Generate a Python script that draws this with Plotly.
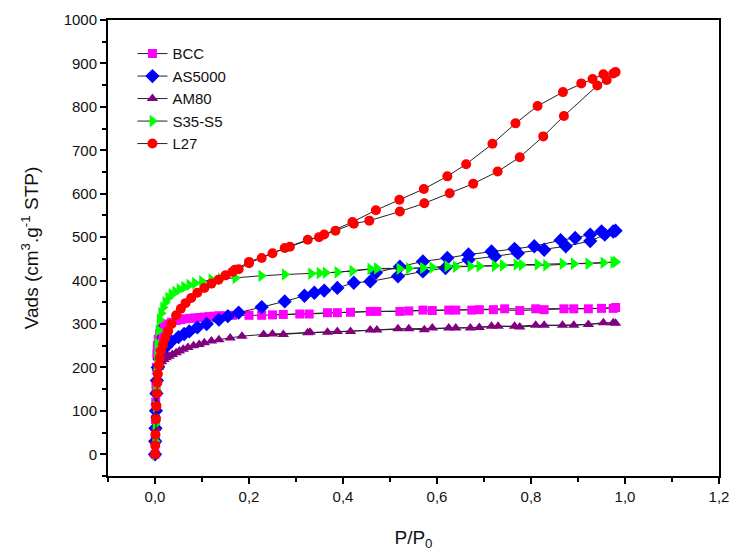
import plotly.graph_objects as go

# ---------------- data ----------------
bcc_ads_x = [0, 0.0005, 0.001, 0.0015, 0.002, 0.003, 0.004, 0.005, 0.007, 0.01, 0.014, 0.02, 0.027, 0.035, 0.045,
             0.055, 0.065, 0.075, 0.085, 0.095, 0.105, 0.115, 0.125, 0.136, 0.15, 0.165, 0.2, 0.227, 0.273,
             0.308, 0.367, 0.416, 0.458, 0.521, 0.57, 0.625, 0.674, 0.72, 0.776, 0.828, 0.87, 0.922, 0.95, 0.98]
bcc_ads_y = [0, 40, 80, 120, 160, 200, 230, 250, 265, 278, 287, 295, 300, 304, 308,
             310, 312, 313, 314, 315, 316, 317, 318, 319, 319, 320, 320, 320, 322,
             323, 326, 327, 329, 329, 332, 332, 332, 333, 331, 333, 335, 335, 336, 338]
bcc_des_x = [0.975, 0.891, 0.81, 0.744, 0.69, 0.64, 0.59, 0.54, 0.472, 0.388, 0.328, 0.25]
bcc_des_y = [336, 335, 335, 335, 333, 332, 331, 330, 329, 326, 323, 321]

as_ads_x = [0, 0.0005, 0.001, 0.002, 0.003, 0.004, 0.006, 0.01, 0.015, 0.024, 0.035, 0.05, 0.062, 0.073, 0.09,
            0.11, 0.136, 0.155, 0.178, 0.227, 0.276, 0.318, 0.339, 0.36, 0.388, 0.423, 0.458, 0.517, 0.57,
            0.618, 0.667, 0.723, 0.772, 0.828, 0.874, 0.926, 0.957, 0.98]
as_ads_y = [0, 30, 60, 100, 140, 170, 200, 218, 232, 248, 260, 270, 277, 283, 292,
            300, 310, 318, 326, 339, 352, 365, 372, 377, 383, 395, 398, 410, 421,
            429, 448, 456, 463, 471, 479, 491, 506, 515]
as_des_x = [0.975, 0.95, 0.926, 0.894, 0.863, 0.807, 0.765, 0.716, 0.667, 0.622, 0.57, 0.521, 0.47]
as_des_y = [513, 513, 506, 498, 493, 479, 473, 467, 460, 452, 444, 432, 418]

am_ads_x = [0, 0.0005, 0.001, 0.0015, 0.002, 0.003, 0.004, 0.005, 0.007, 0.01, 0.014, 0.019, 0.024, 0.03, 0.037,
            0.045, 0.052, 0.06, 0.07, 0.082, 0.094, 0.105, 0.12, 0.136, 0.16, 0.185, 0.231, 0.273, 0.325,
            0.367, 0.416, 0.458, 0.517, 0.573, 0.625, 0.671, 0.716, 0.765, 0.81, 0.867, 0.922, 0.954, 0.98]
am_ads_y = [0, 30, 60, 90, 120, 150, 175, 190, 200, 207, 213, 218, 222, 226, 230,
            234, 238, 242, 246, 250, 253, 257, 261, 264, 268, 272, 276, 276, 280,
            281, 283, 286, 289, 287, 291, 291, 295, 295, 297, 297, 299, 303, 302]
am_des_x = [0.975, 0.891, 0.828, 0.776, 0.73, 0.69, 0.64, 0.59, 0.54, 0.472, 0.388, 0.33, 0.25]
am_des_y = [303, 297, 297, 293, 295, 292, 291, 291, 289, 286, 283, 281, 277]

s35_ads_x = [0, 0.0005, 0.001, 0.0015, 0.002, 0.003, 0.004, 0.005, 0.007, 0.01, 0.013, 0.017, 0.022, 0.028,
             0.035, 0.043, 0.052, 0.062, 0.073, 0.085, 0.1, 0.12, 0.14, 0.171, 0.226, 0.276, 0.332, 0.363,
             0.388, 0.458, 0.52, 0.57, 0.622, 0.671, 0.723, 0.769, 0.814, 0.867, 0.922, 0.954, 0.98]
s35_ads_y = [0, 30, 70, 110, 150, 190, 225, 255, 285, 310, 325, 338, 350, 360,
             368, 374, 380, 385, 390, 394, 398, 402, 404, 406, 411, 414, 416, 418,
             419, 427, 427, 429, 433, 433, 434, 437, 437, 439, 439, 441, 443]
s35_des_x = [0.975, 0.891, 0.832, 0.78, 0.74, 0.69, 0.64, 0.59, 0.54, 0.472, 0.42, 0.35]
s35_des_y = [442, 439, 435, 436, 435, 433, 432, 430, 428, 428, 422, 417]

l27_ads_x = [0, 0.0005, 0.001, 0.002, 0.003, 0.004, 0.005, 0.006, 0.008, 0.01, 0.013, 0.017, 0.022, 0.028,
             0.035, 0.045, 0.055, 0.065, 0.077, 0.09, 0.105, 0.12, 0.135, 0.15, 0.165, 0.178, 0.2, 0.227,
             0.25, 0.276, 0.325, 0.349, 0.384, 0.423, 0.456, 0.521, 0.573, 0.627, 0.677, 0.729, 0.776,
             0.826, 0.87, 0.941, 0.961, 0.98]
l27_ads_y = [0, 20, 45, 80, 110, 140, 165, 185, 205, 222, 238, 252, 268, 284,
             300, 320, 335, 348, 360, 372, 383, 393, 402, 412, 420, 426, 440, 452,
             463, 475, 494, 500, 515, 531, 538, 559, 578, 601, 623, 651, 684,
             732, 779, 849, 862, 880]
l27_des_x = [0.975, 0.954, 0.931, 0.907, 0.868, 0.814, 0.767, 0.718, 0.662, 0.622, 0.572, 0.52, 0.47,
             0.42, 0.36, 0.287, 0.2, 0.17]
l27_des_y = [877, 875, 864, 854, 834, 802, 762, 715, 668, 640, 611, 586, 562,
             535, 506, 478, 443, 425]

names = ["BCC", "AS5000", "AM80", "S35-S5", "L27"]
colors = ["#FF00FF", "#0000FF", "#800080", "#00FF00", "#FF0000"]
symbols = ["square", "diamond", "triangle-up", "triangle-right", "circle"]
sizes = [9, 11, 10, 11, 10]

series = [
    (bcc_ads_x + bcc_des_x, bcc_ads_y + bcc_des_y),
    (as_ads_x + as_des_x, as_ads_y + as_des_y),
    (am_ads_x + am_des_x, am_ads_y + am_des_y),
    (s35_ads_x + s35_des_x, s35_ads_y + s35_des_y),
    (l27_ads_x + l27_des_x, l27_ads_y + l27_des_y),
]

x_tickvals = [0.0, 0.2, 0.4, 0.6, 0.8, 1.0, 1.2]
y_tickvals = [0, 100, 200, 300, 400, 500, 600, 700, 800, 900, 1000]

fig = go.Figure()
for (xs, ys), n, c, s, sz in zip(series, names, colors, symbols, sizes):
    fig.add_trace(go.Scatter(
        x=xs, y=ys, name=n, mode="lines+markers",
        line=dict(color="#222222", width=1),
        marker=dict(symbol=s, color=c, size=sz, line=dict(width=0)),
    ))

axis_common = dict(
    showline=True, linecolor="black", linewidth=2, mirror=True,
    ticks="outside", ticklen=6, tickwidth=1.5, tickcolor="black",
    showgrid=False, zeroline=False, ticklabeloverflow="allow",
    tickfont=dict(family="Liberation Sans, Arial", size=15, color="#111"),
)

fig.update_layout(
    width=736, height=552,
    margin=dict(l=108, r=7, t=20, b=75),
    paper_bgcolor="white", plot_bgcolor="white",
    separators=",.",
    font=dict(family="Liberation Sans, Arial", size=15, color="#111"),
    showlegend=True,
    legend=dict(x=0.04, y=0.962, xanchor="left", yanchor="top",
                bgcolor="rgba(0,0,0,0)", font=dict(size=15),
                tracegroupgap=0),
    xaxis=dict(range=[-0.1, 1.2], tickvals=x_tickvals, tickformat=".1f",
               minor=dict(dtick=0.1, ticks="outside", ticklen=4, tickcolor="black", tickwidth=1.5),
               title=dict(text="P/P<sub>0</sub>", font=dict(size=19), standoff=27),
               **axis_common),
    yaxis=dict(range=[-50, 1000], tickvals=y_tickvals,
               minor=dict(dtick=50, ticks="outside", ticklen=4, tickcolor="black", tickwidth=1.5),
               title=dict(text="Vads (cm<sup>3</sup>.g<sup>-1</sup> STP)", font=dict(size=19), standoff=20),
               **axis_common),
)

fig.write_html("out.html", config={"displayModeBar": False},
               post_script="document.body.style.margin='0px';document.body.style.overflow='hidden';")
